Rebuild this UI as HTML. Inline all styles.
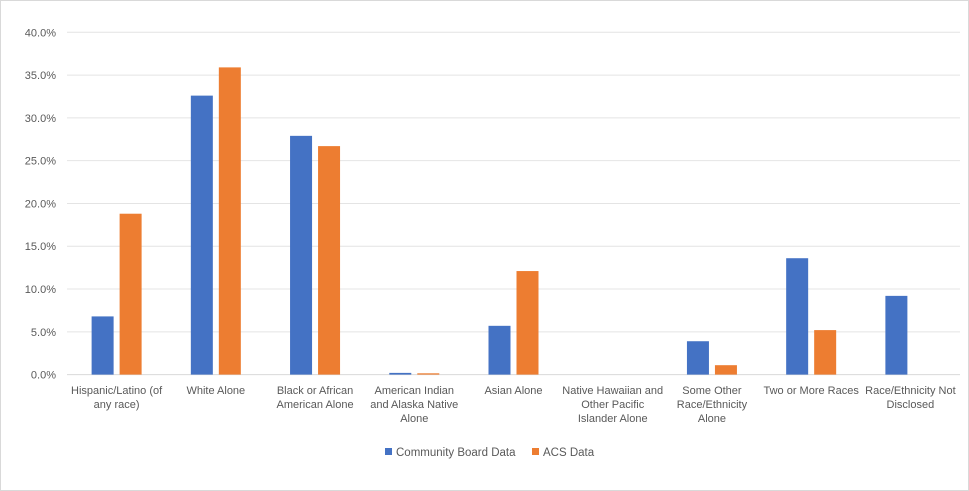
<!DOCTYPE html>
<html><head><meta charset="utf-8"><style>
body{margin:0;background:#fff}
svg{display:block;font-family:"Liberation Sans",sans-serif}
</style></head><body>
<svg id="c" width="969" height="491" viewBox="0 0 969 491">
<rect x="0.5" y="0.5" width="968" height="490" fill="#fff" stroke="#d9d9d9"/>
<g id="grid"></g><g id="bars"></g><g id="labels"></g>
<g>
<rect x="385" y="448" width="7" height="7" fill="#4472c4"/>
<text x="396" y="456" font-size="11.5" fill="#595959">Community Board Data</text>
<rect x="532" y="448" width="7" height="7" fill="#ed7d31"/>
<text x="543" y="456" font-size="11.5" fill="#595959">ACS Data</text>
</g>
</svg>
<script>
const categories=[["Hispanic/Latino (of","any race)"],["White Alone"],["Black or African","American Alone"],["American Indian","and Alaska Native","Alone"],["Asian Alone"],["Native Hawaiian and","Other Pacific","Islander Alone"],["Some Other","Race/Ethnicity","Alone"],["Two or More Races"],["Race/Ethnicity Not","Disclosed"]];
const communityBoard=[6.8,32.6,27.9,0.2,5.7,0,3.9,13.6,9.2];
const acs=[18.8,35.9,26.7,0.15,12.1,0,1.1,5.2,0];
const ticks=[0,5,10,15,20,25,30,35,40];
const NS="http://www.w3.org/2000/svg";
const x0=67,x1=960,y0=374.6,yTop=32.3,maxV=40;
const cw=(x1-x0)/categories.length;
const y=v=>y0-(v/maxV)*(y0-yTop);
const cx=i=>x0+cw*(i+0.5);
const grid=document.getElementById('grid'),bars=document.getElementById('bars'),labels=document.getElementById('labels');
function mk(t,a){const e=document.createElementNS(NS,t);for(const k in a)e.setAttribute(k,a[k]);return e;}
ticks.forEach(t=>{
 const l=mk('line',{x1:x0,x2:x1,y1:y(t),y2:y(t),stroke:t===0?'#d9d9d9':'#e4e4e4','stroke-width':1});
 
 
 grid.appendChild(l);
 const tx=mk('text',{x:56,y:y(t)+4,'text-anchor':'end','font-size':11,fill:'#595959'});
 tx.textContent=t.toFixed(1)+'%';
 
 
 grid.appendChild(tx);
});
categories.forEach((c,i)=>{
 const b1=mk('rect',{x:cx(i)-25,width:22,y:y(communityBoard[i]),height:y0-y(communityBoard[i]),fill:'#4472c4'});
 
 
 bars.appendChild(b1);
 const b2=mk('rect',{x:cx(i)+3,width:22,y:y(acs[i]),height:y0-y(acs[i]),fill:'#ed7d31'});
 
 
 bars.appendChild(b2);
 c.forEach((line,j)=>{
  const t=mk('text',{x:cx(i),y:394+j*14,'text-anchor':'middle','font-size':11,fill:'#595959'});
  t.textContent=line;
  
  
  labels.appendChild(t);
 });
});
</script>
</body></html>
